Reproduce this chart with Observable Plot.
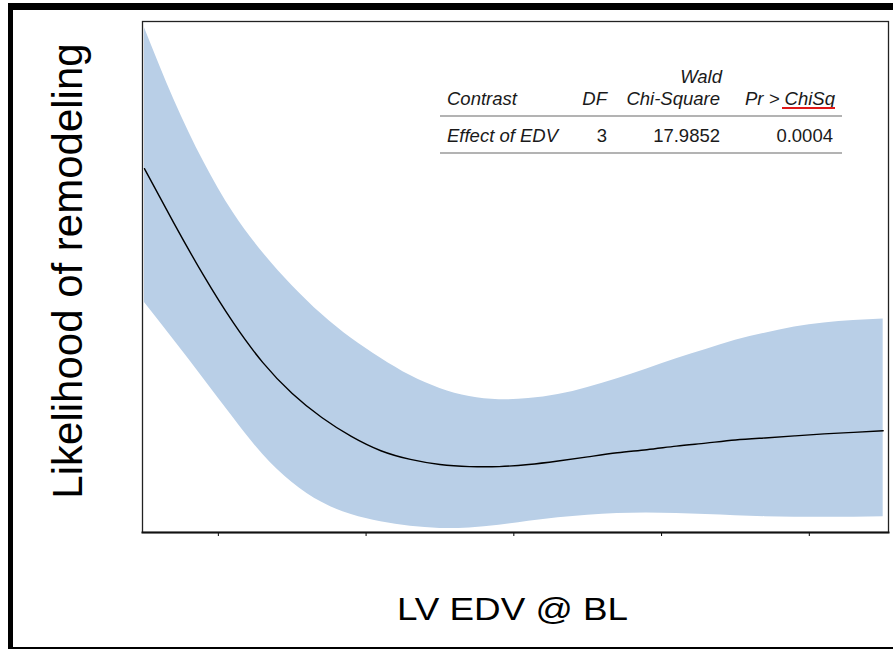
<!DOCTYPE html>
<html>
<head>
<meta charset="utf-8">
<script src="https://cdn.jsdelivr.net/npm/d3@7"></script>
<script src="https://cdn.jsdelivr.net/npm/@observablehq/plot@0.6"></script>
<style>
  html, body { margin: 0; padding: 0; background: #fff; }
  #wrap { position: relative; width: 893px; height: 649px; overflow: hidden; font-family: "Liberation Sans", Arial, sans-serif; }
  #border { position: absolute; left: 8px; top: 3px; width: 890px; height: 637px;
            border-left: 5px solid #000; border-top: 7px solid #000; border-bottom: 2px solid #000; }
  #chart { position: absolute; left: 0; top: 0; }
  #chart svg { display: block; background: transparent; }
</style>
</head>
<body>
<div id="wrap"><div id="border"></div><div id="chart"></div></div>
<script>
// LV EDV at baseline (mL)
const edv = [25, 35, 45, 55, 65, 75, 85, 95, 105, 115, 125, 135, 145, 155, 165, 175, 185, 195, 205, 215, 225, 235, 245, 255, 265, 275];
// Estimated likelihood of remodeling
const estimate = [0.712, 0.605, 0.503, 0.411, 0.333, 0.272, 0.225, 0.188, 0.160, 0.143, 0.133, 0.129, 0.129, 0.133, 0.140, 0.148, 0.156, 0.162, 0.169, 0.175, 0.181, 0.185, 0.189, 0.193, 0.196, 0.199];
// Upper confidence limit
const upper = [0.988, 0.847, 0.726, 0.626, 0.548, 0.483, 0.427, 0.380, 0.341, 0.307, 0.282, 0.266, 0.260, 0.262, 0.270, 0.284, 0.301, 0.320, 0.340, 0.358, 0.376, 0.390, 0.402, 0.410, 0.415, 0.418];
// Lower confidence limit
const lower = [0.450, 0.376, 0.301, 0.225, 0.153, 0.098, 0.059, 0.035, 0.021, 0.012, 0.008, 0.009, 0.014, 0.022, 0.029, 0.034, 0.037, 0.038, 0.037, 0.035, 0.033, 0.031, 0.030, 0.030, 0.030, 0.031];
// x-axis tick positions (unlabelled)
const tickValues = [50, 100, 150, 200, 250];

const xLabel = "LV EDV @ BL";
const yLabel = "Likelihood of remodeling";

// Inset table
const tableTitleAbove = "Wald";
const tableHeader = ["Contrast", "DF", "Chi-Square", "Pr > ChiSq"];
const tableRow = ["Effect of EDV", "3", "17.9852", "0.0004"];

const data = edv.map((x, i) => ({x, est: estimate[i], lo: lower[i], hi: upper[i]}));

const chart = Plot.plot({
  width: 893,
  height: 649,
  marginLeft: 142,
  marginRight: 5,
  marginTop: 21,
  marginBottom: 117,
  style: {background: "transparent", fontFamily: "Liberation Sans, Arial, sans-serif"},
  x: {domain: [24.33, 276.8], ticks: tickValues, tickSize: 4, tickFormat: () => "", label: null},
  y: {domain: [0, 1], axis: null},
  marks: [
    Plot.areaY(data, {x: "x", y1: "lo", y2: "hi", fill: "#b9cfe7", curve: "natural"}),
    Plot.lineY(data, {x: "x", y: "est", stroke: "#000", strokeWidth: 1.4, curve: "natural"}),
    Plot.frame({stroke: "#222", strokeWidth: 1.3}),
    Plot.frame({anchor: "bottom", stroke: "#111", strokeWidth: 2})
  ]
});
document.getElementById("chart").appendChild(chart);

const svg = d3.select(chart);
const font = "Liberation Sans, Arial, sans-serif";

// Axis titles
svg.append("text")
  .attr("transform", "translate(82,271) rotate(-90)")
  .attr("text-anchor", "middle")
  .attr("font-family", font).attr("font-size", 42).attr("fill", "#000")
  .text(yLabel);
svg.append("text")
  .attr("x", 397).attr("y", 620)
  .attr("text-anchor", "start")
  .attr("textLength", 231).attr("lengthAdjust", "spacingAndGlyphs")
  .attr("font-family", font).attr("font-size", 32).attr("fill", "#000")
  .text(xLabel);

// Inset table
const tbl = svg.append("g").attr("font-family", font).attr("font-size", 18.5).attr("fill", "#1a1a1a");
const colX = [447, 607, 720, 835];
const colAnchor = ["start", "end", "end", "end"];
tbl.append("text").attr("x", 722).attr("y", 83).attr("text-anchor", "end").attr("font-style", "italic").text(tableTitleAbove);
tableHeader.forEach((t, i) => {
  tbl.append("text").attr("x", colX[i]).attr("y", 104.5).attr("text-anchor", colAnchor[i]).attr("font-style", "italic").text(t);
});
const rowX = [447, 607, 720, 833];
tableRow.forEach((t, i) => {
  tbl.append("text").attr("x", rowX[i]).attr("y", 142).attr("text-anchor", colAnchor[i])
    .attr("font-style", i === 0 ? "italic" : "normal").text(t);
});
tbl.append("line").attr("x1", 440).attr("x2", 842).attr("y1", 116).attr("y2", 116).attr("stroke", "#9a9a9a").attr("stroke-width", 1.5);
tbl.append("line").attr("x1", 440).attr("x2", 842).attr("y1", 153).attr("y2", 153).attr("stroke", "#9a9a9a").attr("stroke-width", 1.5);
tbl.append("line").attr("x1", 782).attr("x2", 835).attr("y1", 108).attr("y2", 108).attr("stroke", "#e01818").attr("stroke-width", 2);
</script>
</body>
</html>
